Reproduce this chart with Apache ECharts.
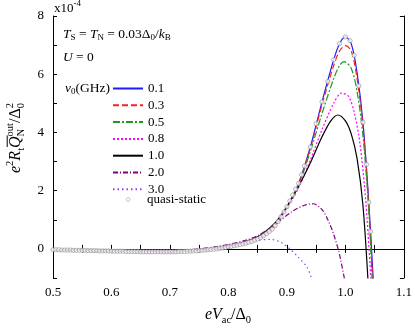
<!DOCTYPE html>
<html>
<head>
<meta charset="utf-8">
<script src="https://cdn.jsdelivr.net/npm/echarts@6/dist/echarts.min.js"></script>
<style>
  html, body { margin: 0; padding: 0; background: #fff; }
  #chart { width: 415px; height: 328px; }
</style>
</head>
<body>
<div id="chart"></div>
<script>
// frequencies in the legend (GHz)
var freqNames = ['0.1', '0.3', '0.5', '0.8', '1.0', '2.0', '3.0'];

// curves, [eVac/Delta0, value in units of 1e-4]
var curve01 = [[0.5,-0.03],[0.6,-0.08],[0.7,-0.1],[0.75,-0.06],[0.78,0],[0.8,0.07],[0.82,0.15],[0.84,0.26],[0.86,0.45],[0.88,0.8],[0.9,1.45],[0.92,2.25],[0.94,3.5],[0.96,5.05],[0.98,6.5],[0.99,7.05],[1.0,7.28],[1.01,7.05],[1.02,6.05],[1.03,4.35],[1.04,1.6],[1.048,-1.2]];
var curve03 = [[0.5,-0.03],[0.6,-0.08],[0.7,-0.1],[0.75,-0.06],[0.78,0],[0.8,0.07],[0.82,0.15],[0.84,0.26],[0.86,0.45],[0.88,0.8],[0.9,1.45],[0.92,2.22],[0.94,3.45],[0.96,4.95],[0.98,6.3],[0.99,6.8],[1.0,6.98],[1.01,6.8],[1.02,5.85],[1.03,4.2],[1.04,1.5],[1.047,-1.2]];
var curve05 = [[0.5,-0.03],[0.6,-0.08],[0.7,-0.1],[0.75,-0.06],[0.78,0],[0.8,0.07],[0.82,0.15],[0.84,0.26],[0.86,0.45],[0.88,0.8],[0.9,1.43],[0.92,2.2],[0.94,3.35],[0.96,4.65],[0.98,5.85],[0.99,6.3],[0.998,6.43],[1.01,6.2],[1.02,5.4],[1.03,3.9],[1.04,1.3],[1.046,-1.2]];
var curve08 = [[0.5,-0.03],[0.6,-0.08],[0.7,-0.1],[0.75,-0.06],[0.78,0],[0.8,0.07],[0.82,0.15],[0.84,0.26],[0.86,0.45],[0.88,0.8],[0.9,1.4],[0.92,2.1],[0.94,3.05],[0.96,4.1],[0.98,5.0],[0.993,5.35],[1.005,5.25],[1.015,4.7],[1.025,3.6],[1.035,1.6],[1.044,-1.2]];
var curve10 = [[0.5,-0.03],[0.6,-0.07],[0.7,-0.08],[0.75,-0.04],[0.8,0.1],[0.85,0.42],[0.88,0.9],[0.9,1.45],[0.92,2.15],[0.94,2.95],[0.96,3.85],[0.975,4.4],[0.987,4.6],[1.0,4.4],[1.01,3.95],[1.02,3.1],[1.03,1.5],[1.039,-1.2]];
var curve20 = [[0.5,-0.02],[0.6,-0.05],[0.7,-0.06],[0.75,0],[0.78,0.08],[0.8,0.15],[0.83,0.3],[0.85,0.45],[0.87,0.7],[0.89,1.0],[0.91,1.3],[0.93,1.5],[0.945,1.55],[0.96,1.35],[0.97,1.0],[0.98,0.5],[0.99,-0.2],[1.0,-1.2]];
var curve30 = [[0.5,-0.02],[0.6,-0.05],[0.7,-0.06],[0.75,-0.01],[0.78,0.06],[0.8,0.12],[0.83,0.22],[0.85,0.29],[0.872,0.33],[0.89,0.22],[0.905,0],[0.92,-0.3],[0.935,-0.65],[0.945,-1.2]];

// quasi-static points
var qsX = [0.500,0.505,0.510,0.515,0.520,0.525,0.530,0.535,0.540,0.545,0.550,0.555,0.560,0.565,0.570,0.575,0.580,0.585,0.590,0.595,
  0.600,0.605,0.610,0.615,0.620,0.625,0.630,0.635,0.640,0.645,0.650,0.655,0.660,0.665,0.670,0.675,0.680,0.685,0.690,0.695,
  0.700,0.705,0.710,0.715,0.720,0.725,0.730,0.735,0.740,0.745,0.750,0.755,0.760,0.765,0.770,0.775,0.780,0.785,0.790,0.795,
  0.800,0.805,0.810,0.815,0.820,0.825,0.830,0.835,0.840,0.845,0.850,0.855,0.860,0.865,0.870,0.875,0.880,0.885,0.890,0.895,
  0.900,0.905,0.910,0.915,0.920,0.925,0.930,
  0.940,0.950,0.960,0.970,0.980,0.990,1.000,1.008,1.015,1.023,1.030,1.036,1.040,1.043];
var qsY = [-0.03,-0.03,-0.03,-0.04,-0.04,-0.04,-0.04,-0.05,-0.05,-0.05,-0.05,-0.05,-0.06,-0.06,-0.06,-0.06,-0.07,-0.07,-0.07,-0.07,
  -0.08,-0.08,-0.08,-0.08,-0.08,-0.09,-0.09,-0.09,-0.09,-0.09,-0.10,-0.10,-0.10,-0.10,-0.10,-0.10,-0.10,-0.10,-0.10,-0.10,
  -0.10,-0.10,-0.10,-0.09,-0.09,-0.09,-0.08,-0.08,-0.07,-0.07,-0.06,-0.05,-0.04,-0.03,-0.02,-0.01,0.00,0.02,0.03,0.05,
  0.07,0.09,0.11,0.13,0.15,0.17,0.20,0.23,0.26,0.30,0.34,0.39,0.45,0.52,0.60,0.68,0.80,0.94,1.10,1.27,
  1.45,1.65,1.85,2.05,2.25,2.55,2.85,
  3.5,4.3,5.05,5.75,6.5,7.05,7.28,7.15,6.65,5.6,4.35,2.9,1.6,0.6];

var yLabels = [0, 2, 4, 6, 8];

var curves = [curve01, curve03, curve05, curve08, curve10, curve20, curve30];
var colors = ['#1c1cff', '#ff1c1c', '#1f9a1f', '#ff00ff', '#000000', '#800080', '#9a3cf0'];
var dashes = ['solid', [6, 3], [7, 2, 2, 2], [2, 2], 'solid', [5, 2, 1, 2], [1.5, 3]];

var SERIF = '"Liberation Serif", "DejaVu Serif", serif';

// measure text so sub/superscripts can be laid out by hand
var mctx = document.createElement('canvas').getContext('2d');
function mathText(tokens, cx, cy, rot) {
  var x = 0, start = 0, kids = [];
  tokens.forEach(function (t) {
    var font = (t.it ? 'italic ' : '') + t.size + 'px ' + SERIF;
    mctx.font = font;
    var w = mctx.measureText(t.s).width;
    var px = t.same ? start : x;
    kids.push({ type: 'text', x: px, y: t.dy || 0,
      style: { text: t.s, font: font, fill: '#000', align: 'left', verticalAlign: 'middle' } });
    if (t.bar) {
      kids.push({ type: 'line', shape: { x1: px + 1, y1: -t.size * 0.55, x2: px + w + 1, y2: -t.size * 0.55 },
        style: { stroke: '#000', lineWidth: 1 } });
    }
    if (t.same) { x = Math.max(x, px + w); } else { start = px; x = px + w; }
  });
  kids.forEach(function (k) {
    if (k.type === 'text') k.x -= x / 2;
    else { k.shape.x1 -= x / 2; k.shape.x2 -= x / 2; }
  });
  return { type: 'group', x: cx, y: cy, rotation: rot || 0, children: kids };
}
function leftText(tokens, lx, cy) {
  var g = mathText(tokens, 0, cy);
  var minX = Infinity;
  g.children.forEach(function (k) { if (k.type === 'text') minX = Math.min(minX, k.x); });
  g.x = lx - minX;
  return g;
}

var series = curves.map(function (c, i) {
  return {
    name: freqNames[i], type: 'line', data: c, smooth: 0.3, symbol: 'none', showSymbol: false,
    lineStyle: { color: colors[i], width: 1.2, type: dashes[i] },
    itemStyle: { color: colors[i] }, z: 2, clip: true
  };
});
series.push({
  name: 'quasi-static', type: 'scatter', z: 5,
  data: qsX.map(function (x, i) { return [x, qsY[i]]; }),
  symbol: 'circle', symbolSize: 4.2,
  itemStyle: { color: '#ffffff', borderColor: '#8a8a8a', borderWidth: 0.8 }
});

var axisCommon = {
  axisLine: { lineStyle: { color: '#000', width: 1 } },
  splitLine: { show: false }
};

var option = {
  animation: false,
  backgroundColor: '#fff',
  grid: { left: 53, right: 8, top: 16, bottom: 50 },
  xAxis: [
    Object.assign({ type: 'value', min: 0.5, max: 1.1, interval: 0.1, position: 'bottom',
      axisTick: { inside: true, length: 4, lineStyle: { color: '#000' } },
      minorTick: { show: true, splitNumber: 2, length: 4, lineStyle: { color: '#000' } },
      axisLabel: { margin: 8, fontSize: 13, fontFamily: SERIF, color: '#000',
        formatter: function (v) { return v.toFixed(1); } } }, axisCommon),
    Object.assign({ type: 'value', min: 0.5, max: 1.1, interval: 0.1, position: 'top',
      axisTick: { inside: true, length: 4, lineStyle: { color: '#000' } },
      minorTick: { show: true, splitNumber: 2, length: 4, lineStyle: { color: '#000' } },
      axisLabel: { show: false } }, axisCommon)
  ],
  yAxis: [
    Object.assign({ type: 'value', min: -1, max: 8, interval: 1, position: 'left',
      axisTick: { inside: true, length: 4, lineStyle: { color: '#000' } },
      axisLabel: { margin: 9, fontSize: 13, fontFamily: SERIF, color: '#000',
        formatter: function (v) { return yLabels.indexOf(v) >= 0 ? String(v) : ''; } } }, axisCommon),
    Object.assign({ type: 'value', min: -1, max: 8, interval: 1, position: 'right',
      axisTick: { inside: true, length: 4, lineStyle: { color: '#000' } },
      axisLabel: { show: false } }, axisCommon)
  ],
  legend: [{
    data: freqNames, orient: 'vertical', left: 112, top: 82, padding: 0,
    itemWidth: 30, itemHeight: 12, itemGap: 3.8,
    itemStyle: { opacity: 0 },
    textStyle: { fontSize: 13, fontFamily: SERIF, color: '#000' }
  }, {
    data: ['quasi-static'], orient: 'vertical', left: 126, top: 193, padding: 0,
    itemWidth: 3.6, itemHeight: 3.6,
    itemStyle: { borderWidth: 0.6 },
    textStyle: { fontSize: 13, fontFamily: SERIF, color: '#000', padding: [0, 0, 0, 12] }
  }],
  graphic: [
    leftText([{ s: 'x10', size: 13 }, { s: '-4', size: 9, dy: -5 }], 54, 9),
    leftText([{ s: 'T', size: 13.5, it: true }, { s: 'S', size: 9, dy: 4 }, { s: ' = ', size: 13.5 },
      { s: 'T', size: 13.5, it: true }, { s: 'N', size: 9, dy: 4 }, { s: ' = 0.03\u0394', size: 13.5 },
      { s: '0', size: 9, dy: 4 }, { s: '/', size: 13.5 }, { s: 'k', size: 13.5, it: true },
      { s: 'B', size: 9, dy: 4 }], 63, 34),
    leftText([{ s: 'U', size: 13.5, it: true }, { s: ' = 0', size: 13.5 }], 63, 57),
    leftText([{ s: '\u03bd', size: 13.5, it: true }, { s: '0', size: 9, dy: 4 }, { s: '(GHz)', size: 13.5 }], 65, 88),
    mathText([{ s: 'e', size: 16, it: true }, { s: 'V', size: 16, it: true }, { s: 'ac', size: 10.5, dy: 5 },
      { s: '/\u0394', size: 16 }, { s: '0', size: 10.5, dy: 5 }], 228, 315),
    mathText([{ s: 'e', size: 16, it: true }, { s: '2', size: 10.5, dy: -6 }, { s: 'R', size: 16, it: true },
      { s: 't', size: 10.5, dy: 5 }, { s: 'Q', size: 16, it: true, bar: true }, { s: 'N', size: 10.5, dy: 5 },
      { s: 'out', size: 10.5, dy: -6, same: true }, { s: '/\u0394', size: 16 }, { s: '0', size: 10.5, dy: 5 },
      { s: '2', size: 10.5, dy: -6, same: true }], 16, 138, Math.PI / 2)
  ],
  series: series
};

var myChart = echarts.init(document.getElementById('chart'), null, { renderer: 'canvas' });
myChart.setOption(option);
</script>
</body>
</html>
